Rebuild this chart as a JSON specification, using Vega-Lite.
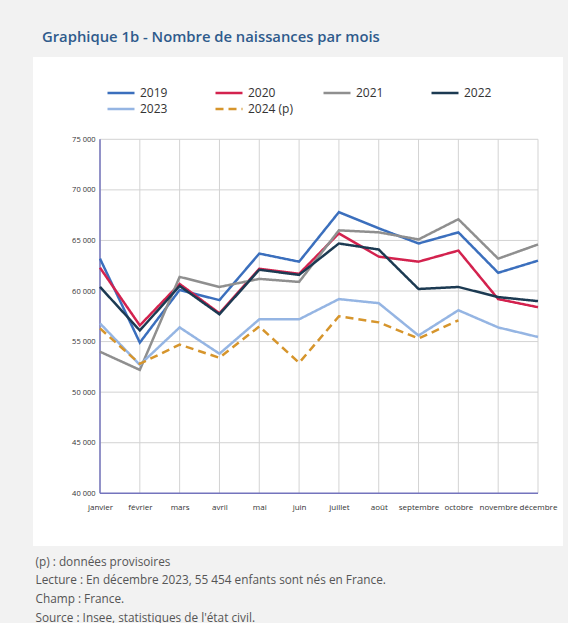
{
  "$schema": "https://vega.github.io/schema/vega-lite/v6.json",
  "width": 530,
  "height": 489,
  "autosize": {"type": "none"},
  "padding": {"left": 33, "top": 57, "right": 5, "bottom": 77},
  "background": "#f2f2f2",
  "config": {
    "view": {"fill": "white", "stroke": null},
    "font": "Open Sans",
    "axisX": {
      "orient": "bottom",
      "offset": -52.7,
      "domain": false,
      "ticks": false,
      "grid": false,
      "labelAngle": 0,
      "labelFontSize": 8,
      "labelColor": "#333333",
      "labelPadding": 10,
      "titleAnchor": "start",
      "titleAlign": "left",
      "titleBaseline": "alphabetic",
      "titleX": 2,
      "titleY": 72,
      "titleFontSize": 11.8,
      "titleFontWeight": "normal",
      "titleColor": "#555555",
      "titleLineHeight": 18.7
    },
    "axisY": {
      "orient": "left",
      "offset": -67,
      "domain": false,
      "ticks": false,
      "grid": false,
      "labelFontSize": 7.5,
      "labelColor": "#333333",
      "labelPadding": 5
    },
    "legend": {
      "direction": "horizontal",
      "columns": 4,
      "symbolType": "M-1.8,0H1.8",
      "symbolSize": 225,
      "symbolStrokeWidth": 2.5,
      "symbolFillColor": "transparent",
      "labelFontSize": 12,
      "labelColor": "#333333",
      "labelFont": "Open Sans",
      "labelOffset": 10,
      "columnPadding": 25,
      "rowPadding": 1,
      "gridAlign": "all"
    }
  },
  "title": {
    "text": "Graphique 1b - Nombre de naissances par mois",
    "anchor": "start",
    "frame": "group",
    "dx": 9,
    "offset": 12,
    "fontSize": 14.8,
    "fontWeight": 600,
    "color": "#2f5b8c",
    "font": "Open Sans"
  },
  "datasets": {
    "mois": [
      {"mois": "janvier"}, {"mois": "février"}, {"mois": "mars"}, {"mois": "avril"},
      {"mois": "mai"}, {"mois": "juin"}, {"mois": "juillet"}, {"mois": "août"},
      {"mois": "septembre"}, {"mois": "octobre"}, {"mois": "novembre"}, {"mois": "décembre"}
    ],
    "grille": [
      {"v": 45000}, {"v": 50000}, {"v": 55000}, {"v": 60000}, {"v": 65000}, {"v": 70000}, {"v": 75000}
    ],
    "naissances": [
      {"annee": "2019", "mois": "janvier", "n": 63200},
      {"annee": "2019", "mois": "février", "n": 54900},
      {"annee": "2019", "mois": "mars", "n": 60100},
      {"annee": "2019", "mois": "avril", "n": 59100},
      {"annee": "2019", "mois": "mai", "n": 63700},
      {"annee": "2019", "mois": "juin", "n": 62900},
      {"annee": "2019", "mois": "juillet", "n": 67800},
      {"annee": "2019", "mois": "août", "n": 66200},
      {"annee": "2019", "mois": "septembre", "n": 64700},
      {"annee": "2019", "mois": "octobre", "n": 65800},
      {"annee": "2019", "mois": "novembre", "n": 61800},
      {"annee": "2019", "mois": "décembre", "n": 63000},
      {"annee": "2020", "mois": "janvier", "n": 62300},
      {"annee": "2020", "mois": "février", "n": 56600},
      {"annee": "2020", "mois": "mars", "n": 60700},
      {"annee": "2020", "mois": "avril", "n": 57800},
      {"annee": "2020", "mois": "mai", "n": 62200},
      {"annee": "2020", "mois": "juin", "n": 61700},
      {"annee": "2020", "mois": "juillet", "n": 65700},
      {"annee": "2020", "mois": "août", "n": 63400},
      {"annee": "2020", "mois": "septembre", "n": 62900},
      {"annee": "2020", "mois": "octobre", "n": 64000},
      {"annee": "2020", "mois": "novembre", "n": 59200},
      {"annee": "2020", "mois": "décembre", "n": 58400},
      {"annee": "2021", "mois": "janvier", "n": 54000},
      {"annee": "2021", "mois": "février", "n": 52200},
      {"annee": "2021", "mois": "mars", "n": 61400},
      {"annee": "2021", "mois": "avril", "n": 60400},
      {"annee": "2021", "mois": "mai", "n": 61200},
      {"annee": "2021", "mois": "juin", "n": 60900},
      {"annee": "2021", "mois": "juillet", "n": 66000},
      {"annee": "2021", "mois": "août", "n": 65800},
      {"annee": "2021", "mois": "septembre", "n": 65100},
      {"annee": "2021", "mois": "octobre", "n": 67100},
      {"annee": "2021", "mois": "novembre", "n": 63200},
      {"annee": "2021", "mois": "décembre", "n": 64600},
      {"annee": "2022", "mois": "janvier", "n": 60400},
      {"annee": "2022", "mois": "février", "n": 56100},
      {"annee": "2022", "mois": "mars", "n": 60500},
      {"annee": "2022", "mois": "avril", "n": 57700},
      {"annee": "2022", "mois": "mai", "n": 62100},
      {"annee": "2022", "mois": "juin", "n": 61600},
      {"annee": "2022", "mois": "juillet", "n": 64700},
      {"annee": "2022", "mois": "août", "n": 64100},
      {"annee": "2022", "mois": "septembre", "n": 60200},
      {"annee": "2022", "mois": "octobre", "n": 60400},
      {"annee": "2022", "mois": "novembre", "n": 59400},
      {"annee": "2022", "mois": "décembre", "n": 59000},
      {"annee": "2023", "mois": "janvier", "n": 56800},
      {"annee": "2023", "mois": "février", "n": 52700},
      {"annee": "2023", "mois": "mars", "n": 56400},
      {"annee": "2023", "mois": "avril", "n": 53800},
      {"annee": "2023", "mois": "mai", "n": 57200},
      {"annee": "2023", "mois": "juin", "n": 57200},
      {"annee": "2023", "mois": "juillet", "n": 59200},
      {"annee": "2023", "mois": "août", "n": 58800},
      {"annee": "2023", "mois": "septembre", "n": 55600},
      {"annee": "2023", "mois": "octobre", "n": 58100},
      {"annee": "2023", "mois": "novembre", "n": 56400},
      {"annee": "2023", "mois": "décembre", "n": 55454},
      {"annee": "2024 (p)", "mois": "janvier", "n": 56300},
      {"annee": "2024 (p)", "mois": "février", "n": 52800},
      {"annee": "2024 (p)", "mois": "mars", "n": 54700},
      {"annee": "2024 (p)", "mois": "avril", "n": 53400},
      {"annee": "2024 (p)", "mois": "mai", "n": 56500},
      {"annee": "2024 (p)", "mois": "juin", "n": 52900},
      {"annee": "2024 (p)", "mois": "juillet", "n": 57500},
      {"annee": "2024 (p)", "mois": "août", "n": 56900},
      {"annee": "2024 (p)", "mois": "septembre", "n": 55300},
      {"annee": "2024 (p)", "mois": "octobre", "n": 57100}
    ]
  },
  "encoding": {
    "x": {
      "field": "mois", "type": "ordinal", "sort": null,
      "scale": {"type": "point", "domain": ["janvier", "février", "mars", "avril", "mai", "juin", "juillet", "août", "septembre", "octobre", "novembre", "décembre"], "range": [67, 505], "padding": 0},
      "axis": {"title": ["(p) : données provisoires", "Lecture : En décembre 2023, 55 454 enfants sont nés en France.", "Champ : France.", "Source : Insee, statistiques de l'état civil."]}
    }
  },
  "layer": [
    {
      "data": {"name": "mois"},
      "mark": {"type": "rule", "color": "#d3d3d3", "strokeWidth": 1},
      "encoding": {
        "y": {"datum": 40000, "type": "quantitative",
              "scale": {"domain": [34789, 83137], "nice": false, "zero": false},
              "axis": {"title": null, "values": [40000, 45000, 50000, 55000, 60000, 65000, 70000, 75000], "labelExpr": "replace(format(datum.value, ','), ',', ' ')"}},
        "y2": {"datum": 75000}
      }
    },
    {
      "data": {"name": "grille"},
      "mark": {"type": "rule", "color": "#d3d3d3", "strokeWidth": 1},
      "encoding": {
        "y": {"field": "v", "type": "quantitative",
              "scale": {"domain": [34789, 83137], "nice": false, "zero": false},
              "axis": {"title": null, "values": [40000, 45000, 50000, 55000, 60000, 65000, 70000, 75000], "labelExpr": "replace(format(datum.value, ','), ',', ' ')"}},
        "x": {"datum": "janvier", "type": "ordinal",
              "scale": {"type": "point", "domain": ["janvier", "février", "mars", "avril", "mai", "juin", "juillet", "août", "septembre", "octobre", "novembre", "décembre"], "range": [67, 505], "padding": 0},
              "axis": {"title": ["(p) : données provisoires", "Lecture : En décembre 2023, 55 454 enfants sont nés en France.", "Champ : France.", "Source : Insee, statistiques de l'état civil."]}},
        "x2": {"datum": "décembre"}
      }
    },
    {
      "data": {"values": [{}]},
      "mark": {"type": "rule", "color": "#7474bd", "strokeWidth": 1.5},
      "encoding": {
        "y": {"datum": 40000, "type": "quantitative",
              "scale": {"domain": [34789, 83137], "nice": false, "zero": false},
              "axis": {"title": null, "values": [40000, 45000, 50000, 55000, 60000, 65000, 70000, 75000], "labelExpr": "replace(format(datum.value, ','), ',', ' ')"}},
        "x": {"datum": "janvier", "type": "ordinal",
              "scale": {"type": "point", "domain": ["janvier", "février", "mars", "avril", "mai", "juin", "juillet", "août", "septembre", "octobre", "novembre", "décembre"], "range": [67, 505], "padding": 0},
              "axis": {"title": ["(p) : données provisoires", "Lecture : En décembre 2023, 55 454 enfants sont nés en France.", "Champ : France.", "Source : Insee, statistiques de l'état civil."]}},
        "x2": {"datum": "décembre"}
      }
    },
    {
      "data": {"values": [{}]},
      "mark": {"type": "rule", "color": "#7474bd", "strokeWidth": 1.5},
      "encoding": {
        "x": {"datum": "janvier", "type": "ordinal",
              "scale": {"type": "point", "domain": ["janvier", "février", "mars", "avril", "mai", "juin", "juillet", "août", "septembre", "octobre", "novembre", "décembre"], "range": [67, 505], "padding": 0},
              "axis": {"title": ["(p) : données provisoires", "Lecture : En décembre 2023, 55 454 enfants sont nés en France.", "Champ : France.", "Source : Insee, statistiques de l'état civil."]}},
        "y": {"datum": 40000, "type": "quantitative",
              "scale": {"domain": [34789, 83137], "nice": false, "zero": false},
              "axis": {"title": null, "values": [40000, 45000, 50000, 55000, 60000, 65000, 70000, 75000], "labelExpr": "replace(format(datum.value, ','), ',', ' ')"}},
        "y2": {"datum": 75000}
      }
    },
    {
      "data": {"name": "naissances"},
      "mark": {"type": "line", "strokeWidth": 2.5, "strokeJoin": "miter"},
      "encoding": {
        "y": {
          "field": "n", "type": "quantitative",
          "scale": {"domain": [34789, 83137], "nice": false, "zero": false},
          "axis": {"title": null, "values": [40000, 45000, 50000, 55000, 60000, 65000, 70000, 75000], "labelExpr": "replace(format(datum.value, ','), ',', ' ')"}
        },
        "color": {
          "field": "annee", "type": "nominal",
          "scale": {"domain": ["2019", "2020", "2021", "2022", "2023", "2024 (p)"], "range": ["#3b6fbd", "#d3224e", "#8f8f8f", "#1c3a52", "#95b5e3", "#d6952c"]},
          "legend": {"title": null, "orient": "none", "legendX": 79, "legendY": 27}
        },
        "strokeDash": {
          "field": "annee", "type": "nominal",
          "scale": {"domain": ["2019", "2020", "2021", "2022", "2023", "2024 (p)"], "range": [[1, 0], [1, 0], [1, 0], [1, 0], [1, 0], [8, 5]]},
          "legend": {"title": null, "orient": "none", "legendX": 79, "legendY": 27}
        }
      }
    }
  ]
}
